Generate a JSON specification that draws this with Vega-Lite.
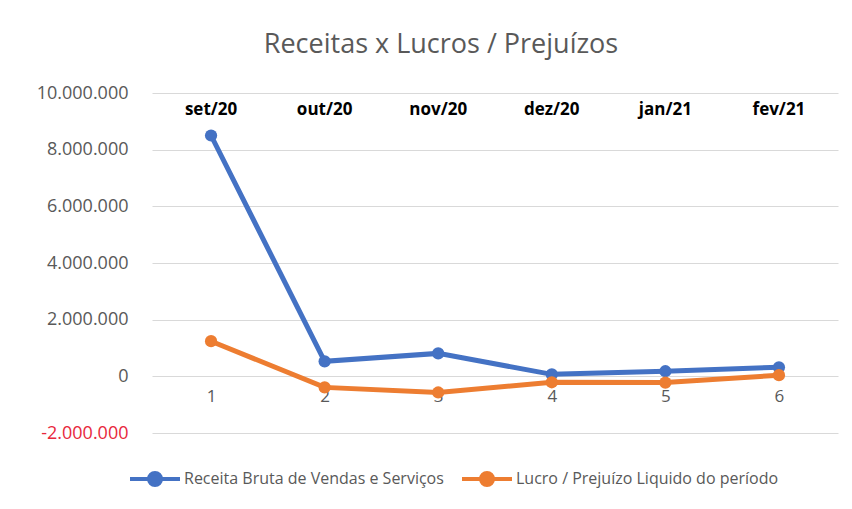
{
  "$schema": "https://vega.github.io/schema/vega-lite/v6.json",
  "width": 686,
  "height": 340,
  "autosize": {"type": "none"},
  "padding": {"left": 152, "top": 93, "right": 14, "bottom": 76},
  "background": "white",
  "config": {
    "locale": {"number": {"decimal": ",", "thousands": ".", "grouping": [3], "currency": ["R$", ""], "minus": "-"}},
    "view": {"stroke": null},
    "font": "Open Sans",
    "axis": {"labelFont": "Open Sans", "titleFont": "Open Sans"},
    "legend": {"labelFont": "Open Sans"}
  },
  "title": {
    "text": "Receitas x Lucros / Prejuízos",
    "fontSize": 27,
    "font": "Open Sans",
    "fontWeight": "normal",
    "color": "#595959",
    "anchor": "middle",
    "dx": -54,
    "offset": 25
  },
  "data": {
    "values": [
      {"idx": "1", "mes": "set/20", "serie": "Receita Bruta de Vendas e Serviços", "valor": 8500000},
      {"idx": "2", "mes": "out/20", "serie": "Receita Bruta de Vendas e Serviços", "valor": 530000},
      {"idx": "3", "mes": "nov/20", "serie": "Receita Bruta de Vendas e Serviços", "valor": 810000},
      {"idx": "4", "mes": "dez/20", "serie": "Receita Bruta de Vendas e Serviços", "valor": 70000},
      {"idx": "5", "mes": "jan/21", "serie": "Receita Bruta de Vendas e Serviços", "valor": 180000},
      {"idx": "6", "mes": "fev/21", "serie": "Receita Bruta de Vendas e Serviços", "valor": 320000},
      {"idx": "1", "mes": "set/20", "serie": "Lucro / Prejuízo Liquido do período", "valor": 1240000},
      {"idx": "2", "mes": "out/20", "serie": "Lucro / Prejuízo Liquido do período", "valor": -390000},
      {"idx": "3", "mes": "nov/20", "serie": "Lucro / Prejuízo Liquido do período", "valor": -570000},
      {"idx": "4", "mes": "dez/20", "serie": "Lucro / Prejuízo Liquido do período", "valor": -210000},
      {"idx": "5", "mes": "jan/21", "serie": "Lucro / Prejuízo Liquido do período", "valor": -220000},
      {"idx": "6", "mes": "fev/21", "serie": "Lucro / Prejuízo Liquido do período", "valor": 40000}
    ]
  },
  "encoding": {
    "x": {
      "field": "idx",
      "type": "ordinal",
      "scale": {"type": "point", "padding": 0.52},
      "axis": {
        "title": null,
        "labelAngle": 0,
        "domain": false,
        "ticks": false,
        "grid": false,
        "offset": -56.67,
        "labelPadding": 12,
        "labelFontSize": 17,
        "labelColor": "#595959"
      }
    }
  },
  "layer": [
    {
      "mark": {"type": "line", "strokeWidth": 5, "point": {"filled": true, "size": 150}},
      "encoding": {
        "y": {
          "field": "valor",
          "type": "quantitative",
          "scale": {"domain": [-2000000, 10000000], "nice": false, "zero": false},
          "axis": {
            "title": null,
            "values": [-2000000, 0, 2000000, 4000000, 6000000, 8000000, 10000000],
            "format": ",d",
            "domain": false,
            "ticks": false,
            "gridColor": "#d9d9d9",
            "gridWidth": 1,
            "labelPadding": 24,
            "labelFontSize": 18,
            "labelColor": {"condition": {"test": "datum.value < 0", "value": "#e8283c"}, "value": "#595959"}
          }
        },
        "color": {
          "field": "serie",
          "type": "nominal",
          "scale": {
            "domain": ["Receita Bruta de Vendas e Serviços", "Lucro / Prejuízo Liquido do período"],
            "range": ["#4472C4", "#ED7D31"]
          },
          "legend": {
            "title": null,
            "orient": "none",
            "legendX": -24,
            "legendY": 359,
            "direction": "horizontal",
            "labelFontSize": 16,
            "labelLimit": 500,
            "labelColor": "#595959",
            "labelOffset": 2,
            "columnPadding": 10,
            "symbolType": "M-1,0H1M-0.24,0A0.24,0.24,0,1,1,0.24,0A0.24,0.24,0,1,1,-0.24,0Z",
            "symbolSize": 2500,
            "symbolStrokeWidth": 4,
            "encode": {"symbols": {"update": {"fill": {"signal": "scale('color', datum.value)"}}}}
          }
        }
      }
    },
    {
      "transform": [{"filter": "datum.serie === 'Receita Bruta de Vendas e Serviços'"}],
      "mark": {"type": "text", "fontWeight": "bold", "fontSize": 17, "font": "Open Sans", "color": "#000000"},
      "encoding": {
        "y": {"datum": 9400000, "type": "quantitative"},
        "text": {"field": "mes", "type": "nominal"}
      }
    }
  ]
}
